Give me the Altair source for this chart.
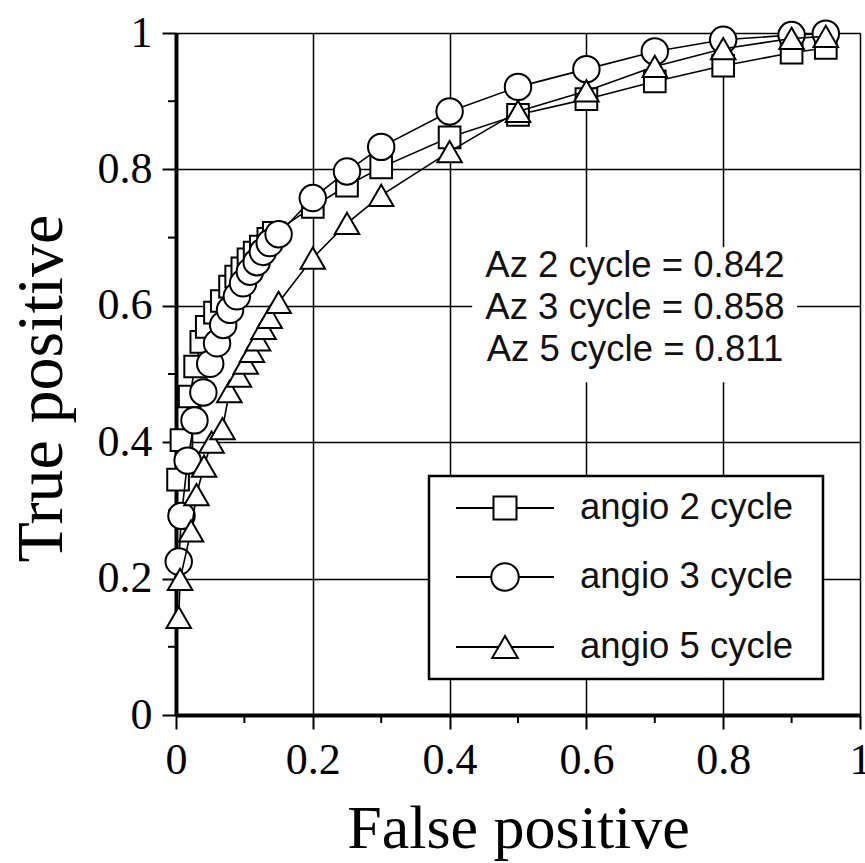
import altair as alt
import pandas as pd

# ---- data ----
series_names = ["angio 2 cycle", "angio 3 cycle", "angio 5 cycle"]
shapes = ["square", "circle", "triangle-up"]

fp_2 = [0.003, 0.008, 0.020, 0.028, 0.037, 0.045, 0.057, 0.067, 0.079, 0.088,
        0.097, 0.106, 0.115, 0.124, 0.135, 0.143, 0.20, 0.25, 0.30, 0.40,
        0.50, 0.60, 0.70, 0.80, 0.90, 0.95]
tp_2 = [0.345, 0.403, 0.467, 0.511, 0.547, 0.569, 0.590, 0.607, 0.628, 0.643,
        0.655, 0.668, 0.678, 0.687, 0.698, 0.707, 0.745, 0.776, 0.803, 0.847,
        0.880, 0.903, 0.929, 0.952, 0.971, 0.978]

fp_3 = [0.004, 0.008, 0.017, 0.027, 0.040, 0.050, 0.060, 0.069, 0.079, 0.089,
        0.098, 0.108, 0.118, 0.127, 0.137, 0.150, 0.20, 0.25, 0.30, 0.40,
        0.50, 0.60, 0.70, 0.80, 0.90, 0.95]
tp_3 = [0.225, 0.292, 0.373, 0.432, 0.473, 0.515, 0.545, 0.572, 0.594, 0.614,
        0.633, 0.650, 0.664, 0.679, 0.692, 0.705, 0.758, 0.797, 0.833, 0.885,
        0.921, 0.947, 0.973, 0.990, 0.997, 0.999]

fp_5 = [0.004, 0.006, 0.022, 0.030, 0.041, 0.052, 0.068, 0.078, 0.092, 0.102,
        0.111, 0.120, 0.128, 0.137, 0.150, 0.20, 0.25, 0.30, 0.40, 0.50,
        0.60, 0.70, 0.80, 0.90, 0.95]
tp_5 = [0.143, 0.199, 0.270, 0.323, 0.365, 0.400, 0.420, 0.474, 0.497, 0.516,
        0.533, 0.550, 0.567, 0.583, 0.605, 0.670, 0.721, 0.762, 0.826, 0.885,
        0.915, 0.951, 0.977, 0.992, 0.995]

az_labels = ["Az 2 cycle = 0.842", "Az 3 cycle = 0.858", "Az 5 cycle = 0.811"]
major_ticks = [0, 0.2, 0.4, 0.6, 0.8, 1.0]
minor_ticks = [0.1, 0.3, 0.5, 0.7, 0.9]

W, H = 684, 682
SERIF = "Liberation Serif"
SANS = "Liberation Sans"

series_data = [(fp_2, tp_2), (fp_3, tp_3), (fp_5, tp_5)]

xscale = alt.Scale(domain=[0, 1], nice=False, zero=False)
yscale = alt.Scale(domain=[0, 1], nice=False, zero=False)

x_axis = alt.Axis(values=major_ticks, format="~g", title="False positive",
                  titleFont=SERIF, titleFontSize=62, titleFontWeight="normal",
                  titleColor="black", titleBaseline="alphabetic", titleY=132,
                  titleX=W / 2,
                  labelFont=SERIF, labelFontSize=44, labelColor="black",
                  labelPadding=9, tickSize=14, tickWidth=2, tickColor="black",
                  domainWidth=4, domainColor="black",
                  grid=True, gridColor="black", gridWidth=1.5, gridOpacity=1,
                  labelFlush=False, labelOverlap=False)
y_axis = alt.Axis(values=major_ticks, format="~g", title="True positive",
                  titleFont=SERIF, titleFontSize=66, titleFontWeight="normal",
                  titleColor="black", titleBaseline="alphabetic", titleX=-115,
                  titleY=H / 2 + 14,
                  labelFont=SERIF, labelFontSize=44, labelColor="black",
                  labelPadding=10, tickSize=14, tickWidth=2, tickColor="black",
                  domainWidth=4, domainColor="black",
                  grid=True, gridColor="black", gridWidth=1.5, gridOpacity=1,
                  labelFlush=False, labelOverlap=False)

frames = []
for name, (fp, tp) in zip(series_names, series_data):
    frames.append(pd.DataFrame({"fp": fp, "tp": tp, "series": name,
                                "idx": list(range(len(fp)))}))

# annotation background (white box hiding grid)
anno_bg = alt.Chart(pd.DataFrame({"a": [0]})).mark_rect(
    fill="white", stroke=None).encode(
    x=alt.X(datum=0.433, type="quantitative", scale=xscale, axis=x_axis),
    x2=alt.X2(datum=0.908),
    y=alt.Y(datum=0.686, type="quantitative", scale=yscale, axis=y_axis),
    y2=alt.Y2(datum=0.488),
)

layers = [anno_bg]

# minor ticks
minor_df = pd.DataFrame({"m": minor_ticks})
layers.append(alt.Chart(minor_df).mark_rule(color="black", strokeWidth=2).encode(
    x=alt.X("m:Q", scale=xscale), y=alt.value(H), y2=alt.value(H + 8)))
layers.append(alt.Chart(minor_df).mark_rule(color="black", strokeWidth=2).encode(
    y=alt.Y("m:Q", scale=yscale), x=alt.value(0), x2=alt.value(-8)))

sizes = {"square": 470, "circle": 700, "triangle-up": 600}
for df, shp in zip(frames, shapes):
    base = alt.Chart(df)
    layers.append(base.mark_line(color="black", strokeWidth=1.6).encode(
        x=alt.X("fp:Q", scale=xscale), y=alt.Y("tp:Q", scale=yscale),
        order="idx:Q"))
    layers.append(base.mark_point(shape=shp, filled=True, fill="white",
                                  stroke="black", strokeWidth=2, opacity=1,
                                  size=sizes[shp]).encode(
        x=alt.X("fp:Q", scale=xscale), y=alt.Y("tp:Q", scale=yscale)))

# annotation text
anno_df = pd.DataFrame({"label": az_labels, "k": [0, 1, 2]})
layers.append(alt.Chart(anno_df).mark_text(
    font=SANS, fontSize=36.5, color="#111", align="center", baseline="middle").encode(
    x=alt.X(datum=0.671, type="quantitative", scale=xscale),
    y=alt.Y("yy:Q", scale=yscale),
    text="label:N").transform_calculate(yy="0.659 - datum.k * 0.062"))

# manual legend (box, sample lines, markers, labels)
LX0, LX1, LY0, LY1 = 253, 647, 443, 646
row_y = [475, 544, 614]
layers.append(alt.Chart(pd.DataFrame({"a": [0]})).mark_rect(
    fill="white", stroke="black", strokeWidth=2.5).encode(
    x=alt.value(LX0), x2=alt.value(LX1), y=alt.value(LY0), y2=alt.value(LY1)))
for ry, shp, name in zip(row_y, shapes, series_names):
    one = alt.Chart(pd.DataFrame({"name": [name]}))
    layers.append(one.mark_rule(color="black", strokeWidth=2).encode(
        x=alt.value(280), x2=alt.value(378), y=alt.value(ry)))
    layers.append(one.mark_point(shape=shp, filled=True, fill="white",
                                 stroke="black", strokeWidth=2, opacity=1,
                                 size=sizes[shp] + 60).encode(
        x=alt.value(329), y=alt.value(ry)))
    layers.append(one.mark_text(font=SANS, fontSize=36.5, color="#111",
                                align="left", baseline="middle").encode(
        x=alt.value(404), y=alt.value(ry), text="name:N"))

chart = alt.layer(*layers).properties(
    width=W, height=H,
    autosize=alt.AutoSizeParams(type="none"),
    padding={"left": 176, "top": 33, "right": 5, "bottom": 148},
    background="white",
).configure_view(stroke=None)

chart.save("out.html", embed_options={"renderer": "svg", "actions": False})
